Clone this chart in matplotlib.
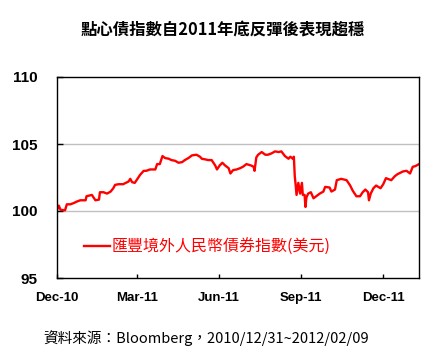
import datetime as dt

import matplotlib
matplotlib.use("Agg")
import matplotlib.pyplot as plt
import matplotlib.ticker as mticker

# Chart data
start_date = dt.date(2010, 12, 31)
day_offsets = [0, 2, 4, 7, 9, 11, 15, 19, 22, 26, 32, 33, 39, 43, 47, 48, 52, 56, 60,
               63, 65, 69, 74, 80, 82, 84, 87, 89, 93, 97, 100, 104, 110, 112, 115,
               118, 121, 125, 128, 132, 136, 140, 143, 147, 151, 156, 160, 162, 166,
               169, 173, 177, 179, 182, 185, 188, 192, 194, 197, 201, 205, 208, 212,
               217, 220, 221, 223, 225, 229, 233, 236, 240, 244, 248, 251, 255, 259,
               261, 264, 265, 266, 267, 268, 270, 272, 274, 275, 277, 278, 279, 281,
               284, 287, 290, 294, 298, 300, 305, 307, 311, 313, 318, 324, 328, 331,
               335, 339, 342, 345, 348, 349, 351, 354, 357, 362, 365, 368, 374, 378,
               381, 387, 391, 395, 398, 401, 405]
index_values = [100.08, 100.4, 100.08, 100.07, 100.05, 100.5, 100.5, 100.6, 100.7, 100.8,
                100.8, 101.1, 101.2, 100.8, 100.85, 101.4, 101.4, 101.3, 101.45,
                101.7, 101.95, 102.0, 102.0, 102.2, 102.4, 102.15, 102.1, 102.3,
                102.7, 103.0, 103.0, 103.1, 103.1, 103.5, 103.5,
                104.1, 103.95, 103.9, 103.8, 103.75, 103.6, 103.65, 103.8, 103.95,
                104.15, 104.2, 104.05, 103.9, 103.85, 103.8, 103.8, 103.4, 103.1,
                103.4, 103.6, 103.4, 103.2, 102.8, 103.05, 103.1, 103.2, 103.3, 103.5,
                103.4, 103.3, 103.0, 104.0, 104.2, 104.4, 104.2, 104.2, 104.3, 104.45,
                104.4, 104.45, 104.1, 103.9, 104.05, 103.9, 104.05, 102.6, 101.95,
                101.2, 102.1, 101.3, 102.1, 101.2, 101.2, 100.3, 101.0, 101.3, 101.4,
                100.95, 101.1, 101.3, 101.45, 101.8, 101.75, 101.45, 101.6, 102.3,
                102.4, 102.3, 101.9, 101.5, 101.1, 101.1, 101.4, 101.6, 101.4, 100.8,
                101.3, 101.7, 101.9, 101.7, 102.0, 102.45, 102.3, 102.6, 102.75,
                102.95, 103.0, 102.8, 103.3, 103.35, 103.5]
series_label = "匯豐境外人民幣債券指數(美元)"
tick_dates = [dt.date(2010, 12, 31), dt.date(2011, 3, 31), dt.date(2011, 6, 30),
              dt.date(2011, 9, 30), dt.date(2011, 12, 31)]
tick_labels = ["Dec-10", "Mar-11", "Jun-11", "Sep-11", "Dec-11"]
y_ticks = [95, 100, 105, 110]
title_text = "點心債指數自2011年底反彈後表現趨穩"
source_text = "資料來源：Bloomberg，2010/12/31~2012/02/09"

dates = [start_date + dt.timedelta(days=d) for d in day_offsets]

cjk = ["Noto Sans CJK TC", "DejaVu Sans"]

fig = plt.figure(figsize=(4.4, 3.63), dpi=100)
ax = fig.add_axes([57 / 440, 1 - 278 / 363, 362 / 440, 201 / 363])

ax.plot(dates, index_values, color="#ff0000", linewidth=1.7, label=series_label)

ax.set_xlim(start_date, start_date + dt.timedelta(days=405))
ax.set_ylim(95, 110)
ax.set_yticks(y_ticks)
ax.set_xticks(tick_dates)
ax.xaxis.set_major_formatter(mticker.FixedFormatter(tick_labels))

# only the inner lines are gridded
for v in [100, 105]:
    ax.axhline(v, color="#c0c0c0", linewidth=1.0, zorder=0)

for s in ax.spines.values():
    s.set_color("black")
    s.set_linewidth(1.0)

ax.tick_params(axis="y", direction="in", length=4, width=1, pad=14)
ax.tick_params(axis="x", direction="in", length=3, width=1, pad=10)
for lab in ax.get_yticklabels():
    lab.set_fontfamily("Liberation Sans")
    lab.set_fontweight("bold")
    lab.set_fontsize(11)
for lab in ax.get_xticklabels():
    lab.set_fontfamily("Liberation Sans")
    lab.set_fontweight("bold")
    lab.set_fontsize(9.5)

leg = ax.legend(loc="lower left", bbox_to_anchor=(0.035, 0.04), frameon=False,
                handlelength=1.6, handletextpad=0.15, labelcolor="#ff0000",
                prop={"family": cjk, "size": 11.5})

fig.text(0.506, 1 - 30 / 363, title_text, ha="center", va="center",
         fontsize=11.8, fontweight="bold", family=cjk)
fig.text(43 / 440, 1 - 338 / 363, source_text, ha="left", va="center",
         fontsize=10.5, family=cjk)

fig.savefig("out.png", dpi=100, facecolor="white")
